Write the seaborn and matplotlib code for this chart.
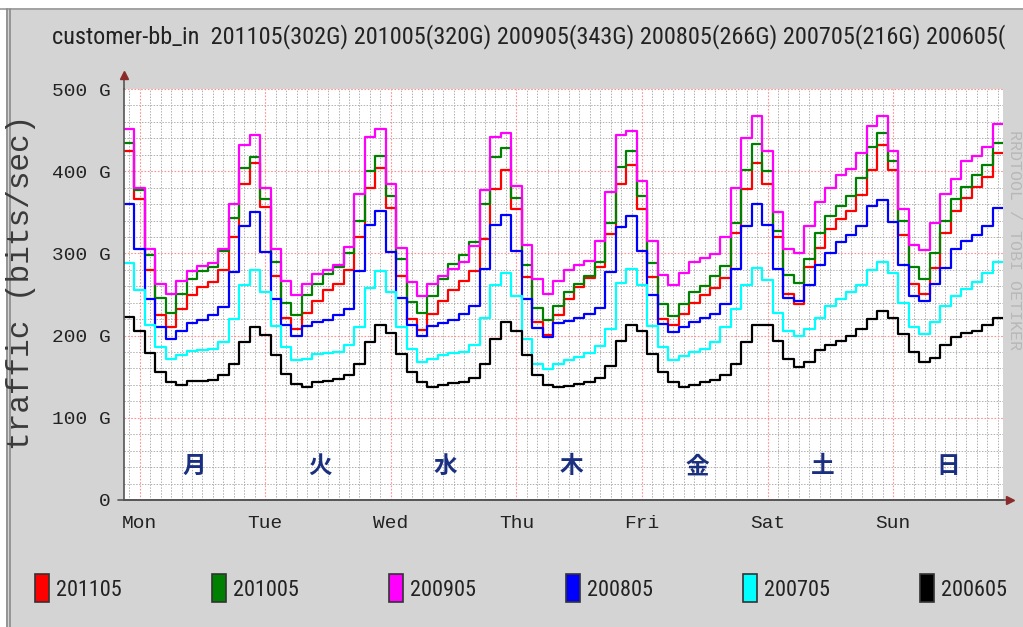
import numpy as np
import pandas as pd
import matplotlib
matplotlib.use("Agg")
import matplotlib.pyplot as plt
import seaborn as sns
from matplotlib import font_manager
from matplotlib.patches import Rectangle

# 2-hour steps from Sun 21:00 to the next Sun 21:00, traffic in G bits/sec
series = ["201105", "201005", "200905", "200805", "200705", "200605"]
colors = ["#ff0000", "#008000", "#ff00ff", "#0000ff", "#00ffff", "#000000"]

v201105 = [424, 366, 280, 225, 211, 232, 249, 259, 265, 280, 320, 385, 410,
           356, 273, 221, 208, 228, 242, 255, 263, 280, 320, 380, 404,
           355, 273, 220, 207, 226, 242, 256, 266, 279, 318, 378, 402,
           354, 271, 217, 201, 225, 245, 259, 270, 283, 323, 384, 407,
           354, 271, 220, 213, 226, 240, 250, 258, 270, 325, 378, 410,
           385, 320, 251, 238, 284, 307, 330, 342, 352, 371, 401, 432,
           401, 322, 263, 251, 282, 325, 352, 367, 381, 393, 422]
v201005 = [434, 377, 298, 246, 228, 251, 269, 279, 283, 303, 343, 404, 417,
           366, 290, 240, 225, 249, 263, 275, 283, 300, 339, 400, 419,
           370, 293, 241, 228, 248, 269, 287, 298, 314, 360, 417, 428,
           368, 286, 233, 219, 236, 253, 263, 273, 289, 337, 405, 424,
           370, 288, 238, 224, 238, 253, 260, 272, 285, 337, 402, 433,
           400, 327, 274, 264, 293, 325, 345, 358, 370, 392, 429, 447,
           412, 340, 283, 269, 300, 340, 366, 381, 395, 407, 434]
v200905 = [451, 379, 305, 263, 251, 267, 279, 285, 288, 305, 360, 432, 444,
           380, 305, 266, 250, 263, 275, 280, 286, 308, 372, 441, 451,
           385, 307, 265, 248, 263, 273, 281, 289, 309, 377, 441, 447,
           382, 310, 269, 251, 267, 280, 286, 291, 315, 375, 444, 449,
           388, 315, 274, 261, 276, 289, 294, 299, 320, 380, 440, 467,
           424, 350, 305, 300, 333, 362, 380, 395, 403, 422, 455, 467,
           424, 354, 310, 304, 337, 372, 390, 412, 418, 430, 457]
v200805 = [360, 305, 245, 210, 196, 206, 215, 219, 225, 235, 277, 333, 350,
           302, 245, 213, 199, 212, 216, 219, 225, 232, 278, 335, 352,
           302, 246, 213, 199, 212, 215, 219, 226, 236, 281, 335, 347,
           303, 244, 209, 198, 215, 218, 221, 226, 234, 277, 332, 345,
           303, 249, 214, 204, 210, 216, 222, 226, 238, 281, 333, 360,
           335, 281, 246, 242, 262, 286, 301, 314, 322, 333, 358, 365,
           338, 286, 248, 242, 263, 282, 305, 315, 322, 333, 355]
v200705 = [288, 256, 213, 186, 171, 177, 181, 183, 184, 192, 220, 261, 280,
           253, 212, 186, 170, 172, 178, 179, 180, 188, 211, 258, 278,
           253, 211, 184, 168, 172, 177, 179, 180, 188, 222, 262, 276,
           248, 196, 166, 159, 166, 170, 174, 179, 187, 208, 264, 281,
           262, 212, 186, 170, 175, 180, 184, 192, 210, 232, 262, 282,
           268, 228, 206, 200, 208, 222, 236, 244, 253, 261, 280, 290,
           276, 240, 211, 202, 217, 236, 248, 257, 265, 276, 290]
v200605 = [223, 206, 179, 156, 144, 140, 145, 145, 146, 152, 165, 192, 211,
           201, 176, 153, 141, 138, 143, 145, 147, 152, 165, 192, 213,
           203, 178, 156, 143, 138, 140, 142, 144, 148, 165, 196, 216,
           206, 176, 152, 140, 137, 139, 141, 144, 148, 163, 194, 213,
           206, 178, 156, 143, 138, 140, 143, 146, 152, 165, 192, 213,
           213, 194, 172, 162, 168, 182, 188, 193, 199, 208, 220, 230,
           222, 202, 180, 168, 173, 188, 198, 203, 206, 213, 222]
values = [v201105, v201005, v200905, v200805, v200705, v200605]

title = "customer-bb_in  201105(302G) 201005(320G) 200905(343G) 200805(266G) 200705(216G) 200605("
day_names = ["Mon", "Tue", "Wed", "Thu", "Fri", "Sat", "Sun"]
day_kanji = ["月", "火", "水", "木", "金", "土", "日"]

# hours relative to Mon 00:00
start = -3
edges = start + 2 * np.arange(len(v201105) + 1)
frames = []
for name, vals in zip(series, values):
    frames.append(pd.DataFrame({"hour": edges, "traffic": list(vals) + [vals[-1]], "series": name}))
df = pd.concat(frames, ignore_index=True)

sns.set_style("white")
names = {f.name for f in font_manager.fontManager.ttflist}
mono = "Liberation Mono" if "Liberation Mono" in names else "DejaVu Sans Mono"
narrow = next((n for n in ["Liberation Sans Narrow", "DejaVu Sans Condensed", "Roboto Condensed"]
               if n in names), "Liberation Sans")
plt.rcParams["font.family"] = [mono, "DejaVu Sans"]

W, H = 1023, 627
fig = plt.figure(figsize=(W / 100, H / 100), dpi=100, facecolor="#d4d4d4")
ax = fig.add_axes([124 / W, 1 - 500 / H, 879 / W, 411 / H])
ax.set_facecolor("white")

sns.lineplot(data=df, x="hour", y="traffic", hue="series", hue_order=series, palette=colors,
             drawstyle="steps-post", linewidth=1.6, legend=False, errorbar=None, ax=ax)

ax.set_xlim(start, edges[-1])
ax.set_ylim(0, 500)
ax.set_xlabel("")
ax.set_ylabel("")
ax.set_xticks(np.arange(0, 168, 24))
ax.set_xticklabels(day_names)
ax.set_xticks(np.arange(-2, 166, 2), minor=True)
ax.set_yticks(np.arange(0, 501, 100))
ax.set_yticklabels(["0" if v == 0 else f"{v} G" for v in range(0, 501, 100)])
ax.set_yticks(np.arange(0, 501, 20), minor=True)
ax.set_axisbelow(True)
ax.grid(which="major", color="#ff9090", linestyle=(0, (1.5, 1.5)), linewidth=0.8)
ax.grid(which="minor", color="#b0b0b0", linestyle=(0, (1.5, 1.5)), linewidth=0.7)
ax.tick_params(which="both", direction="inout", color="#555555", length=5, width=1)
ax.tick_params(which="minor", length=3)
ax.tick_params(axis="y", labelsize=14, pad=7, labelcolor="#222222")
ax.tick_params(axis="x", labelsize=14, pad=8, labelcolor="#222222")
for s in ["top", "right"]:
    ax.spines[s].set_visible(False)
for s in ["left", "bottom"]:
    ax.spines[s].set_color("#555555")
    ax.spines[s].set_linewidth(1.2)

# axis extensions with arrows
ax.plot([0, 0], [1, 1.035], transform=ax.transAxes, color="#555555", lw=1.2, clip_on=False)
ax.plot([0], [1.035], marker="^", ms=6, color="#8b2a2a", transform=ax.transAxes, clip_on=False)
ax.plot([-0.007, 1.008], [0, 0], transform=ax.transAxes, color="#555555", lw=1.2, clip_on=False)
ax.plot([1.008], [0], marker=">", ms=6, color="#8b2a2a", transform=ax.transAxes, clip_on=False)

for d, k in enumerate(day_kanji):
    ax.text(24 * d + 10.5, 41, k, ha="center", va="center", fontsize=17, fontweight="bold",
            color="#1b2f80", family=["Noto Sans CJK JP", "DejaVu Sans"])

# frame remnants
fig.patches.append(Rectangle((0, 1 - 8 / H), 1, 8 / H, transform=fig.transFigure,
                             facecolor="white", edgecolor="none"))
fig.patches.append(Rectangle((0, 0), 6 / W, 1, transform=fig.transFigure,
                             facecolor="white", edgecolor="none"))
fig.add_artist(plt.Line2D([0, 1], [1 - 9 / H] * 2, transform=fig.transFigure, color="#9a9a9a", lw=1.2))
fig.add_artist(plt.Line2D([7 / W] * 2, [0, 1 - 9 / H], transform=fig.transFigure, color="#8a8a8a", lw=1.2))
fig.add_artist(plt.Line2D([10 / W] * 2, [0, 1 - 9 / H], transform=fig.transFigure, color="#8a8a8a", lw=1.2))

r = fig.canvas.get_renderer()


def fit(t, target, use_height=False):
    bb = t.get_window_extent(r)
    cur = bb.height if use_height else bb.width
    t.set_fontsize(t.get_fontsize() * target / cur)


t = fig.text(52 / W, 1 - 37 / H, title, family=narrow, fontsize=16, color="#222222", va="center")
fit(t, 958)

t = fig.text(21 / W, 1 - 282 / H, "traffic (bits/sec)", rotation=90, ha="center", va="center",
             fontsize=22, color="#3a3a3a", family=mono)
fit(t, 335, use_height=True)

t = fig.text(1014 / W, 1 - 240 / H, "RRDTOOL / TOBI OETIKER", rotation=270, ha="center", va="center",
             fontsize=12, color="#b8b8b8", family=mono)

for k, (name, col) in enumerate(zip(series, colors)):
    x0 = 35 + 177 * k
    fig.patches.append(Rectangle((x0 / W, 1 - 602 / H), 14 / W, 28 / H, transform=fig.transFigure,
                                 facecolor=col, edgecolor="#333333", lw=1.2))
    t = fig.text((x0 + 21) / W, 1 - 590 / H, name, family=narrow, fontsize=16, color="#222222",
                 va="center")
    fit(t, 66)

fig.savefig("out.png", dpi=100, facecolor=fig.get_facecolor())
